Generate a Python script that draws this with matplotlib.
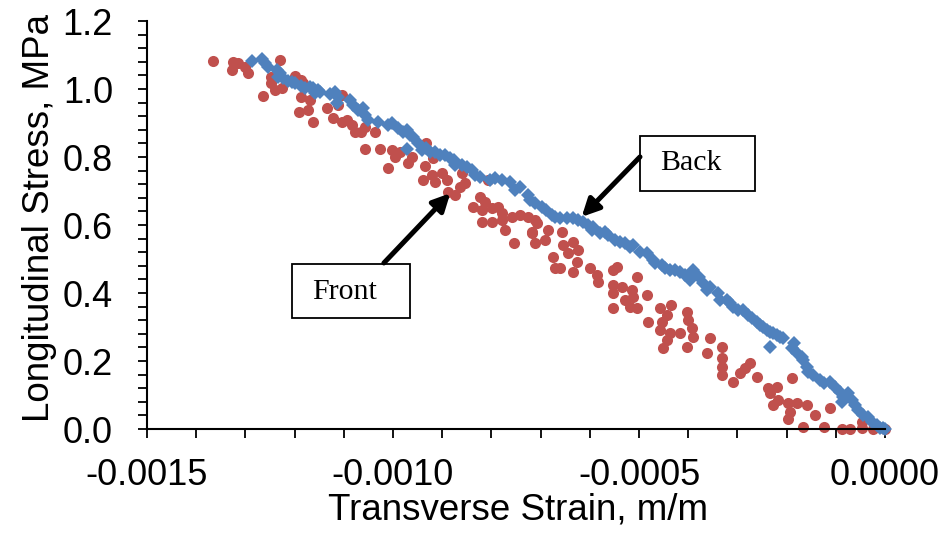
import numpy as np
import matplotlib
matplotlib.use("Agg")
import matplotlib.pyplot as plt
from matplotlib.ticker import MultipleLocator, FuncFormatter
from matplotlib.patches import Rectangle

# strain values read in microstrain (x1e-6), stress in MPa
back_strain = [-1286, -1267, -1260, -1253, -1236, -1230, -1233, -1223, -1213, -1206,
               -1199, -1186, -1179, -1169, -1162, -1152, -1159, -1148, -1128, -1118,
               -1111, -1114, -1087, -1081, -1071, -1060, -1057, -1050, -1030, -1010,
               -1003, -989, -979, -972, -965, -959, -949, -972, -942, -932,
               -925, -915, -904, -894, -884, -877, -874, -860, -850, -840,
               -833, -823, -803, -793, -779, -762, -752, -742, -725, -722,
               -711, -698, -688, -677, -671, -661, -647, -634, -623, -613,
               -603, -593, -596, -579, -569, -562, -549, -539, -528, -518,
               -512, -498, -484, -471, -467, -454, -447, -437, -427, -417,
               -407, -390, -396, -379, -369, -362, -356, -339, -335, -322,
               -315, -308, -298, -288, -278, -271, -261, -254, -247, -240,
               -234, -227, -220, -213, -234, -207, -186, -190, -179, -169,
               -166, -159, -156, -146, -132, -125, -112, -102, -91, -85,
               -75, -88, -68, -61, -54, -44, -34, -27, -17, -10,
               -4, 0]
back_stress = [1.083, 1.087, 1.076, 1.066, 1.056, 1.046, 1.036, 1.031, 1.024, 1.021,
               1.017, 1.009, 1.002, 1.007, 1.002, 0.997, 0.987, 0.992, 0.985, 0.992,
               0.977, 0.958, 0.968, 0.953, 0.938, 0.943, 0.924, 0.909, 0.904, 0.894,
               0.899, 0.884, 0.874, 0.879, 0.865, 0.858, 0.840, 0.823, 0.821, 0.826,
               0.816, 0.816, 0.806, 0.806, 0.796, 0.791, 0.776, 0.776, 0.771, 0.762,
               0.747, 0.742, 0.732, 0.737, 0.732, 0.727, 0.703, 0.713, 0.688, 0.674,
               0.664, 0.654, 0.644, 0.629, 0.624, 0.620, 0.620, 0.620, 0.615, 0.610,
               0.600, 0.595, 0.585, 0.576, 0.580, 0.571, 0.556, 0.551, 0.546, 0.536,
               0.541, 0.521, 0.517, 0.497, 0.487, 0.482, 0.473, 0.468, 0.468, 0.463,
               0.453, 0.468, 0.438, 0.448, 0.429, 0.409, 0.419, 0.399, 0.379, 0.379,
               0.370, 0.360, 0.350, 0.350, 0.335, 0.326, 0.316, 0.306, 0.301, 0.291,
               0.286, 0.281, 0.276, 0.272, 0.242, 0.267, 0.252, 0.237, 0.223, 0.213,
               0.203, 0.183, 0.169, 0.159, 0.144, 0.134, 0.139, 0.124, 0.110, 0.095,
               0.105, 0.080, 0.085, 0.071, 0.056, 0.041, 0.036, 0.021, 0.012, 0.003,
               0.003, 0.0]

front_strain = [-1365, -1325, -1314, -1327, -1301, -1294, -1230, -1247, -1247, -1240,
                -1226, -1264, -1199, -1186, -1182, -1186, -1169, -1192, -1172, -1162,
                -1135, -1104, -1111, -1121, -1104, -1094, -1084, -1077, -1064, -1057,
                -1037, -1057, -1026, -1003, -996, -986, -962, -969, -1010, -932,
                -918, -935, -938, -921, -915, -901, -891, -888, -874, -860,
                -854, -864, -806, -823, -813, -837, -820, -799, -786, -779,
                -820, -799, -779, -759, -742, -725, -711, -772, -755, -718,
                -711, -691, -684, -674, -671, -708, -718, -657, -654, -634,
                -623, -644, -627, -661, -634, -600, -586, -583, -552, -545,
                -505, -552, -535, -552, -515, -512, -484, -528, -518, -552,
                -505, -457, -434, -444, -403, -400, -481, -454, -457, -437,
                -417, -393, -390, -444, -451, -403, -356, -332, -362, -332,
                -332, -332, -308, -295, -285, -274, -261, -237, -220, -234,
                -217, -190, -227, -197, -179, -193, -197, -159, -142, -112,
                -166, -125, -88, -71, -47, -47, -24, 0]
front_stress = [1.083, 1.080, 1.076, 1.056, 1.066, 1.046, 1.085, 1.036, 1.017, 0.997,
                1.002, 0.979, 1.038, 1.026, 1.017, 0.977, 0.968, 0.933, 0.938, 0.904,
                0.943, 0.982, 0.953, 0.914, 0.904, 0.909, 0.894, 0.874, 0.874, 0.889,
                0.874, 0.823, 0.823, 0.821, 0.801, 0.816, 0.801, 0.781, 0.767, 0.840,
                0.796, 0.774, 0.732, 0.747, 0.727, 0.752, 0.732, 0.698, 0.688, 0.752,
                0.723, 0.713, 0.732, 0.683, 0.669, 0.654, 0.644, 0.649, 0.654, 0.634,
                0.610, 0.610, 0.615, 0.624, 0.629, 0.624, 0.615, 0.585, 0.548, 0.580,
                0.546, 0.556, 0.585, 0.507, 0.473, 0.605, 0.576, 0.580, 0.541, 0.551,
                0.526, 0.517, 0.492, 0.473, 0.463, 0.473, 0.453, 0.433, 0.468, 0.477,
                0.446, 0.424, 0.419, 0.399, 0.409, 0.389, 0.394, 0.379, 0.360, 0.355,
                0.355, 0.355, 0.365, 0.335, 0.345, 0.321, 0.316, 0.316, 0.291, 0.281,
                0.281, 0.296, 0.272, 0.262, 0.237, 0.242, 0.267, 0.242, 0.223, 0.208,
                0.183, 0.159, 0.139, 0.164, 0.179, 0.193, 0.154, 0.120, 0.124, 0.105,
                0.085, 0.149, 0.071, 0.076, 0.076, 0.051, 0.031, 0.071, 0.041, 0.061,
                0.007, 0.007, 0.0, 0.0, 0.021, 0.002, 0.0, 0.0]

plt.rcParams['font.family'] = ['Liberation Sans', 'DejaVu Sans']

fig = plt.figure(figsize=(9.5, 5.39), dpi=100)
ax = fig.add_axes([0.1547, 0.204, 0.7769, 0.757])

ax.plot(np.array(front_strain) * 1e-6, front_stress, 'o', color='#C0504D',
        markersize=8, markeredgewidth=0, clip_on=False)
ax.plot(np.array(back_strain) * 1e-6, back_stress, 'D', color='#4F81BD',
        markersize=7, markeredgewidth=0, clip_on=False)

ax.set_xlim(-0.0015, 0.0)
ax.set_ylim(0, 1.2)
ax.xaxis.set_major_locator(MultipleLocator(0.0005))
ax.xaxis.set_minor_locator(MultipleLocator(0.0001))
ax.yaxis.set_major_locator(MultipleLocator(0.2))
ax.yaxis.set_minor_locator(MultipleLocator(0.04))
ax.xaxis.set_major_formatter(FuncFormatter(lambda v, p: '%.4f' % (0.0 if abs(v) < 1e-12 else v)))
ax.yaxis.set_major_formatter(FuncFormatter(lambda v, p: '%.1f' % v))

for s in ['top', 'right']:
    ax.spines[s].set_visible(False)
for s in ['left', 'bottom']:
    ax.spines[s].set_linewidth(1.5)

ax.tick_params(which='both', direction='out', length=6.5, width=1.3, color='black')
ax.tick_params(axis='x', which='major', labelsize=26, pad=14)
ax.tick_params(axis='y', which='major', labelsize=26, pad=18)

ax.set_xlabel('Transverse Strain, m/m', fontsize=26.5)
ax.set_ylabel('Longitudinal Stress, MPa', fontsize=26.5)
ax.xaxis.set_label_coords(0.503, -0.155)
ax.yaxis.set_label_coords(-0.122, 0.518)

# callout boxes
ax.add_patch(Rectangle((0.1965, 0.272), 0.160, 0.132, transform=ax.transAxes,
                       fill=False, edgecolor='black', lw=1.3, clip_on=False))
ax.add_patch(Rectangle((0.668, 0.583), 0.156, 0.135, transform=ax.transAxes,
                       fill=False, edgecolor='black', lw=1.3, clip_on=False))
ax.text(0.268, 0.336, 'Front', transform=ax.transAxes, ha='center', va='center',
        fontsize=21.5, family='Liberation Serif')
ax.text(0.737, 0.652, 'Back', transform=ax.transAxes, ha='center', va='center',
        fontsize=21.5, family='Liberation Serif')

arrow = dict(arrowstyle='-|>', lw=3.6, color='black', mutation_scale=26, shrinkA=0, shrinkB=0)
ax.annotate('', xy=(0.411, 0.578), xytext=(0.321, 0.407), xycoords='axes fraction',
            arrowprops=arrow)
ax.annotate('', xy=(0.589, 0.520), xytext=(0.668, 0.667), xycoords='axes fraction',
            arrowprops=arrow)

fig.savefig('out.png', dpi=100)
